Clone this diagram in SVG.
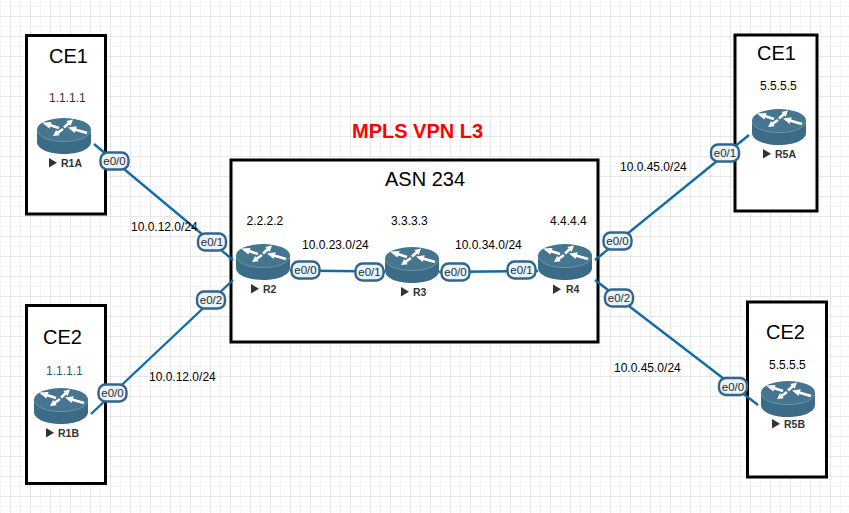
<svg xmlns="http://www.w3.org/2000/svg" width="849" height="513" viewBox="0 0 849 513">
<style>
text{font-family:"Liberation Sans",Arial,sans-serif;fill:#000}
.t{font-size:12px}
.h{font-size:20px}
.box{fill:#fff;stroke:#000;stroke-width:3}
.link{fill:none;stroke:#0f6ca6;stroke-width:2.4}
.pill rect{fill:#e8f3fc;stroke:#33658a;stroke-width:2.4}
.pill text{font-size:11.5px;fill:#2b2b2b;text-anchor:middle}
.rn{font-size:10.5px;font-weight:bold;fill:#333}
.tri{fill:#333}
</style>
<defs>
<pattern id="g1" x="0" y="6" width="20" height="20" patternUnits="userSpaceOnUse"><path d="M0.5 0V20M0 0.5H20" fill="none" stroke="#f3f3f3" stroke-width="1.2"/></pattern>
<pattern id="g2" x="10" y="16" width="20" height="20" patternUnits="userSpaceOnUse"><path d="M0.5 0V20M0 0.5H20" fill="none" stroke="#e7e7e7" stroke-width="1.2"/></pattern>
<g id="router">
<path d="M0 11.500V24C0 31 12 36 27 36S54 31 54 24V11.500Z" fill="#3c6b88"/>
<ellipse cx="27" cy="11.500" rx="27" ry="11.500" fill="#467590"/>
<path d="M0.500 13C2 19.500 13 23.500 27 23.500S52 19.500 53.500 13" fill="none" stroke="#8fadbf" stroke-width="0.6"/>
<g fill="#fff">
<polygon points="5,4.500 14.600,4 13.900,6.100 22.400,8.800 21.600,11.200 13.100,8.500 12.400,10.600"/>
<polygon points="36,1.500 33.600,7.900 32.400,6.500 27.900,10.500 26.100,8.500 30.600,4.500 29.400,3.100"/>
<polygon points="31,9.500 39.700,8.300 39.100,10.500 50.400,13.800 49.600,16.200 38.300,12.900 37.700,15.100"/>
<polygon points="16,18 19.100,12 20.200,13.500 25.300,9.900 26.700,12.100 21.600,15.700 22.700,17.200"/>
</g>
</g>
<polygon id="tri" points="0,0 8,4.800 0,9.600"/>
</defs>
<rect width="849" height="513" fill="#fff"/>
<rect width="849" height="513" fill="url(#g1)"/>
<rect width="849" height="513" fill="url(#g2)"/>

<g id="areas">
<rect id="area-ce1-left" class="box" x="26.500" y="35.500" width="79" height="178.500"/>
<rect id="area-ce2-left" class="box" x="26.500" y="305.500" width="79" height="178"/>
<rect id="area-asn" class="box" x="231" y="160" width="367" height="182"/>
<rect id="area-ce1-right" class="box" x="735" y="35" width="82" height="176"/>
<rect id="area-ce2-right" class="box" x="747.500" y="302" width="79" height="175"/>
</g>

<g id="connectors">
<path class="link" d="M94 144L233 260"/>
<path class="link" d="M91 414L233 280"/>
<path class="link" d="M290 270.500L385 271.500"/>
<path class="link" d="M439 272L538 271"/>
<path class="link" d="M595 260L749 135"/>
<path class="link" d="M595 280L758 405"/>
</g>

<g id="R1A"><use href="#router" x="37" y="118"/><use href="#tri" class="tri" x="49" y="158"/><text class="rn" x="61" y="167">R1A</text></g>
<g id="R1B"><use href="#router" x="34" y="388"/><use href="#tri" class="tri" x="46" y="428"/><text class="rn" x="58" y="437">R1B</text></g>
<g id="R2"><use href="#router" x="236" y="244"/><use href="#tri" class="tri" x="251" y="284"/><text class="rn" x="263" y="293">R2</text></g>
<g id="R3"><use href="#router" x="385" y="247"/><use href="#tri" class="tri" x="401" y="287"/><text class="rn" x="413" y="296">R3</text></g>
<g id="R4"><use href="#router" x="538" y="244"/><use href="#tri" class="tri" x="553" y="284.500"/><text class="rn" x="566" y="293">R4</text></g>
<g id="R5A"><use href="#router" x="752" y="109"/><use href="#tri" class="tri" x="763" y="149"/><text class="rn" x="775" y="158">R5A</text></g>
<g id="R5B"><use href="#router" x="761" y="381"/><use href="#tri" class="tri" x="772" y="419"/><text class="rn" x="784" y="428">R5B</text></g>

<g id="interfaces">
<g class="pill"><rect x="100.500" y="152.500" width="28" height="17" rx="7"/><text x="114.500" y="165">e0/0</text></g>
<g class="pill"><rect x="98.500" y="384.500" width="28" height="17" rx="7"/><text x="112.500" y="397">e0/0</text></g>
<g class="pill"><rect x="198" y="233.500" width="28" height="17" rx="7"/><text x="212" y="246">e0/1</text></g>
<g class="pill"><rect x="197" y="291.500" width="28" height="17" rx="7"/><text x="211" y="304">e0/2</text></g>
<g class="pill"><rect x="291.500" y="261.500" width="28" height="17" rx="7"/><text x="305.500" y="274">e0/0</text></g>
<g class="pill"><rect x="355.500" y="263.500" width="28" height="17" rx="7"/><text x="369.500" y="276">e0/1</text></g>
<g class="pill"><rect x="441.500" y="263.500" width="28" height="17" rx="7"/><text x="455.500" y="276">e0/0</text></g>
<g class="pill"><rect x="507.500" y="261.500" width="28" height="17" rx="7"/><text x="521.500" y="274">e0/1</text></g>
<g class="pill"><rect x="603.500" y="232.500" width="28" height="17" rx="7"/><text x="617.500" y="245">e0/0</text></g>
<g class="pill"><rect x="605" y="289.500" width="28" height="17" rx="7"/><text x="619" y="302">e0/2</text></g>
<g class="pill"><rect x="711" y="144.500" width="28" height="17" rx="7"/><text x="725" y="157">e0/1</text></g>
<g class="pill"><rect x="719" y="378" width="28" height="17" rx="7"/><text x="733" y="390.500">e0/0</text></g>
</g>

<g id="labels">
<text x="352" y="138" style="font-size:20px;font-weight:bold;fill:#f00">MPLS VPN L3</text>
<text class="h" x="385" y="186">ASN 234</text>
<text class="h" x="49" y="63">CE1</text>
<text class="h" x="43" y="344">CE2</text>
<text class="h" x="757" y="60">CE1</text>
<text class="h" x="766" y="339">CE2</text>
<text class="t" x="49" y="102" style="fill:#4a2c0a">1.1.1.1</text>
<text class="t" x="46" y="375" style="fill:#14608f">1.1.1.1</text>
<text class="t" x="246.500" y="225">2.2.2.2</text>
<text class="t" x="391" y="225">3.3.3.3</text>
<text class="t" x="550" y="225">4.4.4.4</text>
<text class="t" x="760" y="90">5.5.5.5</text>
<text class="t" x="769" y="369">5.5.5.5</text>
<text class="t" x="131" y="231">10.0.12.0/24</text>
<text class="t" x="149" y="381">10.0.12.0/24</text>
<text class="t" x="302" y="249">10.0.23.0/24</text>
<text class="t" x="455" y="249">10.0.34.0/24</text>
<text class="t" x="620" y="171">10.0.45.0/24</text>
<text class="t" x="614" y="372">10.0.45.0/24</text>
</g>
</svg>
